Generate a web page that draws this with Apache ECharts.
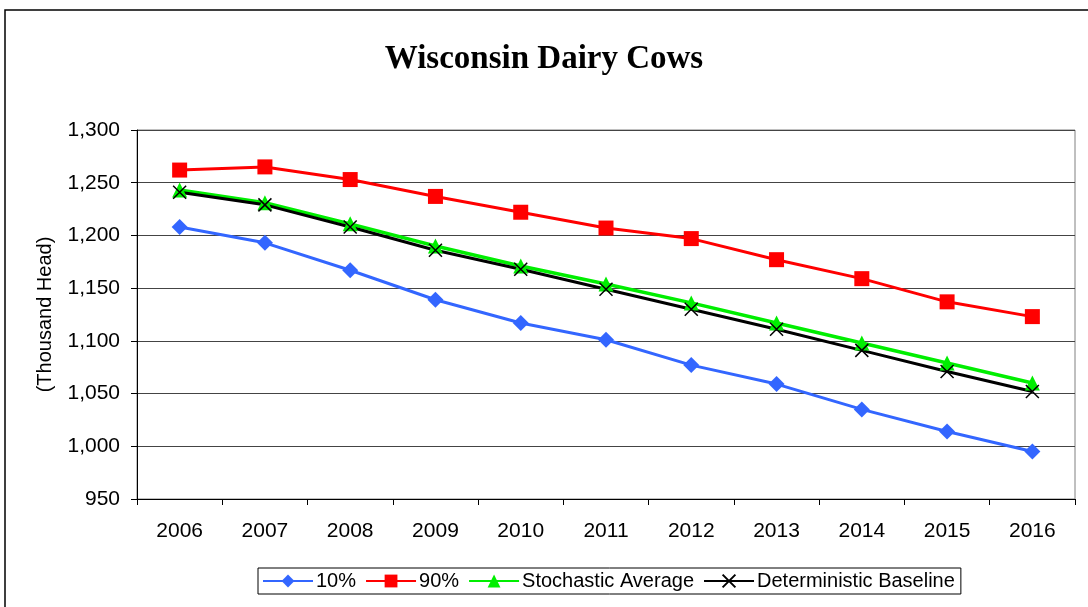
<!DOCTYPE html>
<html><head><meta charset="utf-8">
<script src="https://cdn.jsdelivr.net/npm/echarts@6/dist/echarts.min.js"></script>
<style>html,body{margin:0;padding:0;background:#fff}#c{width:1088px;height:607px}</style>
</head><body><div id="c"></div>
<script>
const years = ['2006','2007','2008','2009','2010','2011','2012','2013','2014','2015','2016'];
const p10 = [1208,1193,1167,1139,1117,1101,1077,1059,1035,1014,995];
const p90 = [1262,1265,1253,1237,1222,1207,1197,1177,1159,1137,1123];
const stochAvg = [1243,1231,1211,1190,1171,1154,1136,1117,1098,1079,1060];
const detBase = [1241,1229,1208,1186,1168,1149,1130,1111,1091,1071,1052];

const X = 'path://M0,0L10,10M10,0L0,10';
const chart = echarts.init(document.getElementById('c'));
const font = 'Liberation Sans, Arial, sans-serif';
chart.setOption({
  animation:false,
  title:{text:'Wisconsin Dairy Cows',left:'center',top:38,textStyle:{fontFamily:'Liberation Serif, Times New Roman, serif',fontSize:33,fontWeight:'bold',color:'#000'}},
  graphic:[{type:'rect',shape:{x:5,y:10,width:1100,height:700},style:{fill:'none',stroke:'#000',lineWidth:1.5},silent:true}],
  grid:{left:137,right:13,top:130,bottom:108,show:true,borderColor:'#808080',borderWidth:1},
  legend:{bottom:13,left:258,itemWidth:50,itemHeight:16,itemGap:9,
    borderColor:'#000',borderWidth:1,padding:[3,6,3,4],
    textStyle:{fontFamily:font,fontSize:20,color:'#000',padding:[0,0,0,-2]},
    data:['10%','90%','Stochastic Average','Deterministic Baseline']},
  xAxis:{type:'category',data:years,
    axisLine:{lineStyle:{color:'#000'}},axisTick:{show:true,length:6,lineStyle:{color:'#000'}},
    axisLabel:{fontFamily:font,fontSize:21,color:'#000',margin:22}},
  yAxis:{type:'value',min:950,max:1300,interval:50,
    name:'(Thousand Head)',nameLocation:'middle',nameGap:82,nameRotate:90,
    nameTextStyle:{fontFamily:font,fontSize:20,color:'#000'},
    axisLine:{show:true,lineStyle:{color:'#000'}},axisTick:{show:true,length:6,lineStyle:{color:'#000'}},
    splitLine:{lineStyle:{color:'#444',width:1}},
    axisLabel:{fontFamily:font,fontSize:21,color:'#000',margin:17,
      formatter:v=>v.toLocaleString('en-US')}},
  series:[
    {name:'10%',type:'line',data:p10,symbol:'diamond',symbolSize:16,
      itemStyle:{color:'#3366ff'},lineStyle:{color:'#3366ff',width:3}},
    {name:'90%',type:'line',data:p90,symbol:'rect',symbolSize:15,
      itemStyle:{color:'#ff0000'},lineStyle:{color:'#ff0000',width:3}},
    {name:'Stochastic Average',type:'line',data:stochAvg,symbol:'triangle',symbolSize:15,
      itemStyle:{color:'#00ee00'},lineStyle:{color:'#00ee00',width:3.5}},
    {name:'Deterministic Baseline',type:'line',data:detBase,symbol:X,symbolSize:13,
      itemStyle:{color:'none',borderColor:'#000',borderWidth:1.5},lineStyle:{color:'#000',width:3}}
  ]
});
</script></body></html>
